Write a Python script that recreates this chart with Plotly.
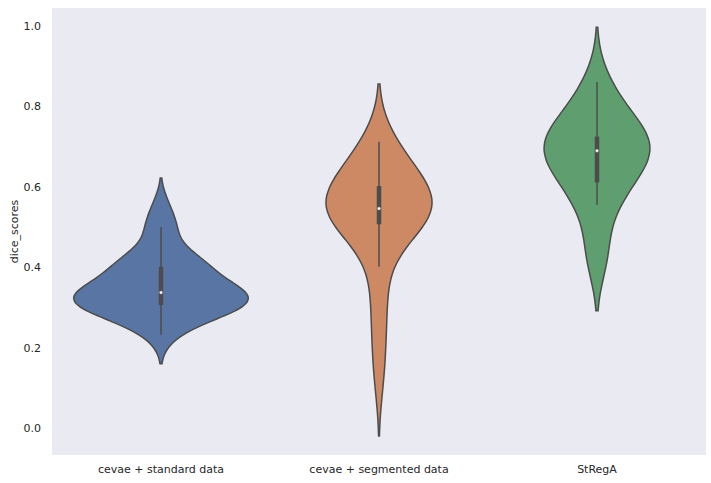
import numpy as np
import plotly.graph_objects as go

categories = ["cevae + standard data", "cevae + segmented data", "StRegA"]

standard_scores = [0.232, 0.258, 0.272, 0.281, 0.288, 0.294, 0.300, 0.305, 0.309, 0.313,
                   0.318, 0.322, 0.326, 0.330, 0.335, 0.339, 0.344, 0.350, 0.357, 0.366,
                   0.378, 0.395, 0.403, 0.408, 0.415, 0.425, 0.440, 0.495, 0.500, 0.550]
segmented_scores = [0.124, 0.205, 0.275, 0.335, 0.401, 0.450, 0.480, 0.505, 0.513, 0.520,
                    0.527, 0.533, 0.538, 0.542, 0.544, 0.548, 0.553, 0.559, 0.566, 0.574,
                    0.583, 0.596, 0.604, 0.618, 0.632, 0.647, 0.662, 0.677, 0.695, 0.712]
strega_scores = [0.428, 0.433, 0.438, 0.555, 0.558, 0.568, 0.585, 0.605, 0.629, 0.641,
                 0.652, 0.662, 0.671, 0.679, 0.686, 0.694, 0.700, 0.705, 0.710, 0.714,
                 0.718, 0.722, 0.726, 0.740, 0.757, 0.775, 0.795, 0.815, 0.838, 0.861]

series = [standard_scores, segmented_scores, strega_scores]
colors = ["#5975a4", "#cc8963", "#5f9e6e"]
bandwidths = [0.036, 0.072, 0.068]
edge = "#4c4c4c"
lw = 1.5


def kde_peak(data, bw):
    d = np.asarray(data)
    grid = np.linspace(d.min() - 2 * bw, d.max() + 2 * bw, 400)
    dens = np.exp(-0.5 * ((grid[:, None] - d[None, :]) / bw) ** 2).sum(axis=1)
    return dens.max() / (len(d) * bw * np.sqrt(2 * np.pi))


peaks = [kde_peak(s, b) for s, b in zip(series, bandwidths)]
gmax = max(peaks)

fig = go.Figure()
for cat, vals, col, bw, pk in zip(categories, series, colors, bandwidths, peaks):
    fig.add_trace(go.Violin(
        x=[cat] * len(vals), y=vals, name=cat,
        fillcolor=col, line=dict(color=edge, width=lw), opacity=1,
        points=False, box_visible=False, meanline_visible=False,
        bandwidth=bw, spanmode="soft", width=0.8 * pk / gmax,
        scalemode="width", hoverinfo="skip", showlegend=False,
    ))

for cat, vals in zip(categories, series):
    d = np.asarray(vals)
    q1, q2, q3 = np.percentile(d, [25, 50, 75])
    lim = 1.5 * (q3 - q1)
    lo = d[d >= q1 - lim].min()
    hi = d[d <= q3 + lim].max()
    fig.add_trace(go.Scatter(x=[cat, cat], y=[lo, hi], mode="lines",
                             line=dict(color=edge, width=lw), showlegend=False, hoverinfo="skip"))
    fig.add_trace(go.Scatter(x=[cat, cat], y=[q1, q3], mode="lines",
                             line=dict(color=edge, width=4.5), showlegend=False, hoverinfo="skip"))
    fig.add_trace(go.Scatter(x=[cat], y=[q2], mode="markers",
                             marker=dict(color="white", size=3.5, line=dict(color=edge, width=0.5)),
                             showlegend=False, hoverinfo="skip"))

font = dict(family="DejaVu Sans", size=11, color="#262626")
fig.update_layout(
    width=711, height=483,
    margin=dict(l=52, r=5, t=8, b=28),
    paper_bgcolor="white", plot_bgcolor="#eaeaf2",
    font=font,
    violingap=0, violinmode="overlay",
    xaxis=dict(type="category", categoryorder="array", categoryarray=categories,
               range=[-0.5, 2.5], showgrid=False, zeroline=False, showline=False,
               ticks="", ticklabelstandoff=6, tickfont=font),
    yaxis=dict(range=[-0.067, 1.045], tickvals=[0, 0.2, 0.4, 0.6, 0.8, 1.0],
               tickformat=".1f", showgrid=False, zeroline=False, showline=False,
               ticks="", ticklabelstandoff=10, tickfont=font,
               title=dict(text="dice_scores", font=dict(family="DejaVu Sans", size=11, color="#262626"),
                          standoff=2)),
)

fig.write_html("out.html", config={"displayModeBar": False},
               post_script="document.body.style.margin='0';")
